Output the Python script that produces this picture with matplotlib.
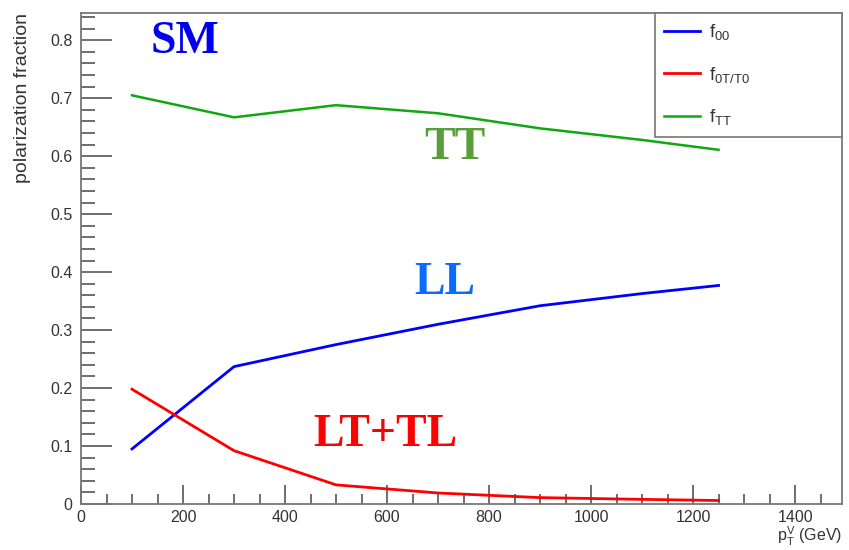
import matplotlib.pyplot as plt
from matplotlib.ticker import MultipleLocator

# polarization fractions vs pT of the vector boson (SM)
pt = [100, 300, 500, 700, 900, 1100, 1250]
f00 = [0.095, 0.237, 0.275, 0.310, 0.342, 0.363, 0.377]
f0T = [0.198, 0.092, 0.033, 0.019, 0.011, 0.008, 0.006]
fTT = [0.705, 0.667, 0.688, 0.674, 0.648, 0.628, 0.611]

labels = [r'f$_{00}$', r'f$_{0T/T0}$', r'f$_{TT}$']

plt.rcParams['font.family'] = ['Liberation Sans', 'DejaVu Sans']
plt.rcParams['mathtext.fontset'] = 'custom'
plt.rcParams['mathtext.rm'] = 'Liberation Sans'
plt.rcParams['mathtext.it'] = 'Liberation Sans'

fig = plt.figure(figsize=(8.49, 5.5), dpi=100)
ax = fig.add_axes([81/849, 46/550, 761/849, 491/550])

ax.plot(pt, f00, color='#0000ff', lw=2.0, label=labels[0])
ax.plot(pt, f0T, color='#ff0000', lw=2.0, label=labels[1])
ax.plot(pt, fTT, color='#10a810', lw=1.8, label=labels[2])

ax.set_xlim(0, 1492)
ax.set_ylim(0, 0.847)

ax.xaxis.set_major_locator(MultipleLocator(200))
ax.xaxis.set_minor_locator(MultipleLocator(50))
ax.yaxis.set_major_locator(MultipleLocator(0.1))
ax.yaxis.set_minor_locator(MultipleLocator(0.02))
ax.yaxis.set_major_formatter(lambda v, p: '0' if abs(v) < 1e-9 else f'{v:.1f}')

ax.tick_params(which='both', direction='in', colors='#555555',
               labelcolor='#333333', labelsize=11.5)
ax.tick_params(axis='y', which='major', length=22, width=1.2, pad=6)
ax.tick_params(axis='y', which='minor', length=10, width=1.2)
ax.tick_params(axis='x', which='major', length=14, width=1.2, pad=4)
ax.tick_params(axis='x', which='minor', length=7, width=1.2)

for s in ax.spines.values():
    s.set_color('#777777')
    s.set_linewidth(1.3)

ax.set_ylabel('polarization fraction', loc='top', fontsize=14,
              color='#333333', labelpad=14)
ax.set_xlabel(r'p$_T^V$ (GeV)', loc='right', fontsize=11.5, color='#333333',
              labelpad=0)

serif = dict(family='Liberation Serif', fontweight='bold', fontsize=33,
             ha='center', va='center')
ax.text(204, 0.797, 'SM', color='#0000ee', **serif)
ax.text(733, 0.614, 'TT', color='#5a9e3c', **serif)
ax.text(714, 0.381, 'LL', color='#0a6cff', **serif)
ax.text(596, 0.119, 'LT+TL', color='#ff0000', **serif)

leg = ax.legend(loc='upper left', bbox_to_anchor=(0.754, 0.758, 0.246, 0.242),
                mode='expand', borderaxespad=0, fontsize=13.5, handlelength=1.9,
                labelspacing=1.2, fancybox=False, framealpha=1,
                edgecolor='#777777', borderpad=0.5, handletextpad=0.5)
leg.get_frame().set_linewidth(1.2)
for t in leg.get_texts():
    t.set_color('#333333')

fig.savefig('out.png', dpi=100)
